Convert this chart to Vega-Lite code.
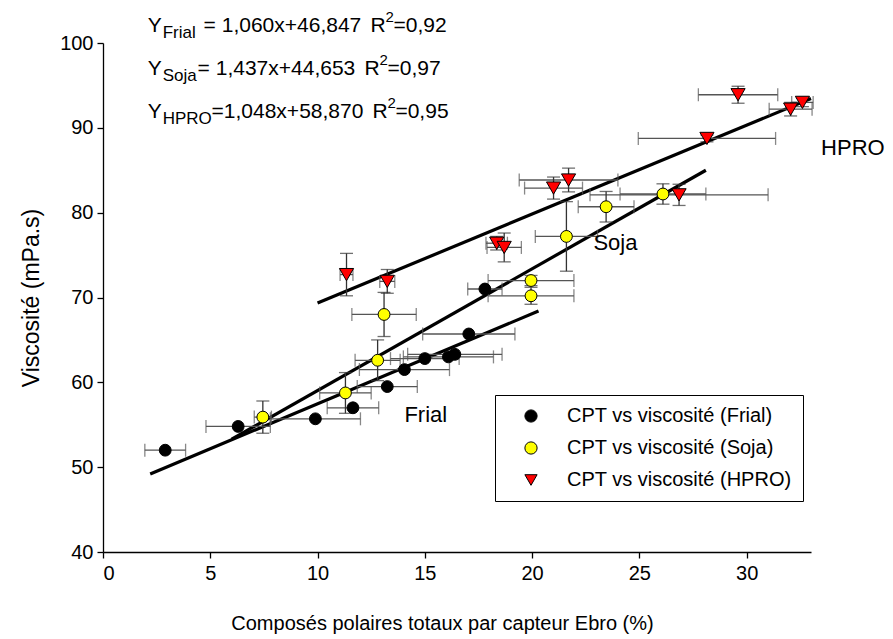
{
  "$schema": "https://vega.github.io/schema/vega-lite/v6.json",
  "autosize": "none",
  "width": 708,
  "height": 509,
  "padding": {"left": 103, "top": 43, "right": 82, "bottom": 87},
  "background": "white",
  "config": {
    "view": {"stroke": null},
    "font": "Liberation Sans",
    "axis": {
      "grid": false,
      "domainColor": "black",
      "domainWidth": 1.3,
      "tickColor": "black",
      "tickWidth": 1.3,
      "tickSize": 6,
      "labelFont": "Liberation Sans",
      "labelFontSize": 20,
      "labelColor": "black",
      "titleFont": "Liberation Sans",
      "titleFontWeight": "normal",
      "titleColor": "black"
    },
    "legend": {
      "labelFont": "Liberation Sans",
      "labelFontSize": 20,
      "labelColor": "black"
    }
  },
  "datasets": {
    "points": [
      {"series": "CPT vs viscosité (Frial)", "x": 2.9, "y": 52.0, "xerr": 0.95, "yerr": 0},
      {"series": "CPT vs viscosité (Frial)", "x": 6.3, "y": 54.8, "xerr": 1.5, "yerr": 0},
      {"series": "CPT vs viscosité (Frial)", "x": 9.9, "y": 55.7, "xerr": 2.1, "yerr": 0},
      {"series": "CPT vs viscosité (Frial)", "x": 11.65, "y": 57.0, "xerr": 1.2, "yerr": 0},
      {"series": "CPT vs viscosité (Frial)", "x": 13.25, "y": 59.5, "xerr": 1.4, "yerr": 0},
      {"series": "CPT vs viscosité (Frial)", "x": 14.05, "y": 61.5, "xerr": 2.1, "yerr": 0},
      {"series": "CPT vs viscosité (Frial)", "x": 15.0, "y": 62.8, "xerr": 1.6, "yerr": 0},
      {"series": "CPT vs viscosité (Frial)", "x": 16.1, "y": 63.0, "xerr": 2.1, "yerr": 0},
      {"series": "CPT vs viscosité (Frial)", "x": 16.4, "y": 63.3, "xerr": 2.2, "yerr": 0},
      {"series": "CPT vs viscosité (Frial)", "x": 17.05, "y": 65.7, "xerr": 2.15, "yerr": 0},
      {"series": "CPT vs viscosité (Frial)", "x": 17.8, "y": 71.0, "xerr": 0.8, "yerr": 0},
      {"series": "CPT vs viscosité (Soja)", "x": 7.45, "y": 55.9, "xerr": 0.4, "yerr": 1.9},
      {"series": "CPT vs viscosité (Soja)", "x": 11.3, "y": 58.75, "xerr": 1.2, "yerr": 2.4},
      {"series": "CPT vs viscosité (Soja)", "x": 12.8, "y": 62.6, "xerr": 1.05, "yerr": 2.4},
      {"series": "CPT vs viscosité (Soja)", "x": 13.1, "y": 68.0, "xerr": 1.5, "yerr": 2.6},
      {"series": "CPT vs viscosité (Soja)", "x": 19.95, "y": 72.0, "xerr": 2.0, "yerr": 0.6},
      {"series": "CPT vs viscosité (Soja)", "x": 19.95, "y": 70.2, "xerr": 2.0, "yerr": 1.0},
      {"series": "CPT vs viscosité (Soja)", "x": 21.6, "y": 77.2, "xerr": 1.45, "yerr": 4.1},
      {"series": "CPT vs viscosité (Soja)", "x": 23.45, "y": 80.7, "xerr": 1.3, "yerr": 1.8},
      {"series": "CPT vs viscosité (Soja)", "x": 26.1, "y": 82.2, "xerr": 2.0, "yerr": 1.2},
      {"series": "CPT vs viscosité (HPRO)", "x": 11.35, "y": 72.7, "xerr": 0.3, "yerr": 2.5},
      {"series": "CPT vs viscosité (HPRO)", "x": 13.25, "y": 71.9, "xerr": 0.35, "yerr": 1.4},
      {"series": "CPT vs viscosité (HPRO)", "x": 18.35, "y": 76.4, "xerr": 0.5, "yerr": 0.8},
      {"series": "CPT vs viscosité (HPRO)", "x": 18.7, "y": 75.9, "xerr": 0.8, "yerr": 1.7},
      {"series": "CPT vs viscosité (HPRO)", "x": 21.0, "y": 82.9, "xerr": 1.35, "yerr": 1.3},
      {"series": "CPT vs viscosité (HPRO)", "x": 21.7, "y": 83.85, "xerr": 2.3, "yerr": 1.4},
      {"series": "CPT vs viscosité (HPRO)", "x": 26.85, "y": 82.1, "xerr": 4.15, "yerr": 1.25},
      {"series": "CPT vs viscosité (HPRO)", "x": 28.15, "y": 88.75, "xerr": 3.2, "yerr": 0.4},
      {"series": "CPT vs viscosité (HPRO)", "x": 29.6, "y": 93.9, "xerr": 1.85, "yerr": 1.0},
      {"series": "CPT vs viscosité (HPRO)", "x": 32.05, "y": 92.2, "xerr": 1.0, "yerr": 0.8},
      {"series": "CPT vs viscosité (HPRO)", "x": 32.6, "y": 93.0, "xerr": 0.5, "yerr": 0.5}
    ],
    "lines": [
      {"fit": "Frial", "x": 2.2, "y": 49.2},
      {"fit": "Frial", "x": 20.3, "y": 68.4},
      {"fit": "Soja", "x": 6.0, "y": 53.3},
      {"fit": "Soja", "x": 28.1, "y": 85.0},
      {"fit": "HPRO", "x": 10.0, "y": 69.35},
      {"fit": "HPRO", "x": 33.0, "y": 93.45}
    ],
    "labels": [
      {"text": "Frial", "x": 14.05, "y": 56.1},
      {"text": "Soja", "x": 22.86, "y": 76.4},
      {"text": "HPRO", "x": 33.47, "y": 87.6}
    ],
    "eqs": [
      {"kind": "main", "text": "Y", "x": 2.08, "y": 102.0},
      {"kind": "sub", "text": "Frial", "x": 2.78, "y": 102.0},
      {"kind": "main", "text": "= 1,060x+46,847", "x": 4.69, "y": 102.0},
      {"kind": "main", "text": "R", "x": 12.47, "y": 102.0},
      {"kind": "sup", "text": "2", "x": 13.17, "y": 102.0},
      {"kind": "main", "text": "=0,92", "x": 13.54, "y": 102.0},
      {"kind": "main", "text": "Y", "x": 2.08, "y": 96.9},
      {"kind": "sub", "text": "Soja", "x": 2.78, "y": 96.9},
      {"kind": "main", "text": "= 1,437x+44,653", "x": 4.41, "y": 96.9},
      {"kind": "main", "text": "R", "x": 12.19, "y": 96.9},
      {"kind": "sup", "text": "2", "x": 12.89, "y": 96.9},
      {"kind": "main", "text": "=0,97", "x": 13.26, "y": 96.9},
      {"kind": "main", "text": "Y", "x": 2.08, "y": 91.9},
      {"kind": "sub", "text": "HPRO", "x": 2.78, "y": 91.9},
      {"kind": "main", "text": "=1,048x+58,870", "x": 5.06, "y": 91.9},
      {"kind": "main", "text": "R", "x": 12.56, "y": 91.9},
      {"kind": "sup", "text": "2", "x": 13.26, "y": 91.9},
      {"kind": "main", "text": "=0,95", "x": 13.63, "y": 91.9}
    ]
  },
  "encoding": {
    "x": {
      "field": "x", "type": "quantitative",
      "scale": {"domain": [0, 33], "nice": false, "zero": false},
      "axis": {"values": [0, 5, 10, 15, 20, 25, 30], "labelPadding": 5, "titlePadding": 30, "titleFontSize": 20, "titleX": 339, "title": "Composés polaires totaux par capteur Ebro (%)"}
    },
    "y": {
      "field": "y", "type": "quantitative",
      "scale": {"domain": [40, 100], "nice": false, "zero": false},
      "axis": {"values": [40, 50, 60, 70, 80, 90, 100], "labelPadding": 4, "titlePadding": 16, "titleFontSize": 23, "title": "Viscosité (mPa.s)"}
    }
  },
  "layer": [
    {
      "data": {"name": "lines"},
      "mark": {"type": "line", "color": "black", "strokeWidth": 3.2},
      "encoding": {"detail": {"field": "fit"}}
    },
    {
      "data": {"name": "points"},
      "transform": [{"filter": "datum.xerr > 0"}],
      "mark": {"type": "errorbar", "ticks": {"size": 13, "color": "#555", "thickness": 1.3}, "rule": {"color": "#555", "strokeWidth": 1.3}},
      "encoding": {
        "x": {"field": "x", "type": "quantitative"},
        "xError": {"field": "xerr"},
        "y": {"field": "y", "type": "quantitative"}
      }
    },
    {
      "data": {"name": "points"},
      "transform": [{"filter": "datum.yerr > 0"}],
      "mark": {"type": "errorbar", "ticks": {"size": 13, "color": "#333", "thickness": 1.3}, "rule": {"color": "#333", "strokeWidth": 1.3}},
      "encoding": {
        "y": {"field": "y", "type": "quantitative"},
        "yError": {"field": "yerr"},
        "x": {"field": "x", "type": "quantitative"}
      }
    },
    {
      "data": {"name": "points"},
      "transform": [{"filter": "datum.series != 'CPT vs viscosité (HPRO)'"}],
      "mark": {"type": "point", "filled": true, "stroke": "black", "strokeWidth": 1, "opacity": 1, "size": 140},
      "encoding": {
        "fill": {
          "field": "series", "type": "nominal",
          "scale": {"domain": ["CPT vs viscosité (Frial)", "CPT vs viscosité (Soja)", "CPT vs viscosité (HPRO)"], "range": ["#000000", "#FFFF00", "#FF0000"]},
          "legend": {
            "title": null, "orient": "none", "legendX": 392, "legendY": 352,
            "strokeColor": "black", "padding": 11, "symbolOffset": 15, "labelOffset": 26,
            "rowPadding": 12, "symbolSize": 150, "symbolStrokeColor": "black", "symbolStrokeWidth": 1,
            "fillColor": "white", "labelLimit": 400
          }
        },
        "shape": {
          "field": "series", "type": "nominal",
          "scale": {"domain": ["CPT vs viscosité (Frial)", "CPT vs viscosité (Soja)", "CPT vs viscosité (HPRO)"], "range": ["circle", "circle", "triangle-down"]}
        }
      }
    },
    {
      "data": {"name": "points"},
      "transform": [{"filter": "datum.series == 'CPT vs viscosité (HPRO)'"}],
      "mark": {"type": "point", "filled": true, "stroke": "black", "strokeWidth": 1, "opacity": 1, "size": 200},
      "encoding": {
        "fill": {"field": "series", "type": "nominal"},
        "shape": {"field": "series", "type": "nominal"}
      }
    },
    {
      "data": {"name": "labels"},
      "mark": {"type": "text", "align": "left", "baseline": "middle", "fontSize": 22, "color": "black"},
      "encoding": {"text": {"field": "text"}}
    },
    {
      "data": {"name": "eqs"},
      "transform": [{"filter": "datum.kind == 'main'"}],
      "mark": {"type": "text", "align": "left", "baseline": "middle", "fontSize": 21, "color": "black"},
      "encoding": {"text": {"field": "text"}}
    },
    {
      "data": {"name": "eqs"},
      "transform": [{"filter": "datum.kind == 'sub'"}],
      "mark": {"type": "text", "align": "left", "baseline": "middle", "fontSize": 17, "dy": 7, "color": "black"},
      "encoding": {"text": {"field": "text"}}
    },
    {
      "data": {"name": "eqs"},
      "transform": [{"filter": "datum.kind == 'sup'"}],
      "mark": {"type": "text", "align": "left", "baseline": "middle", "fontSize": 15, "dy": -9, "color": "black"},
      "encoding": {"text": {"field": "text"}}
    }
  ]
}
